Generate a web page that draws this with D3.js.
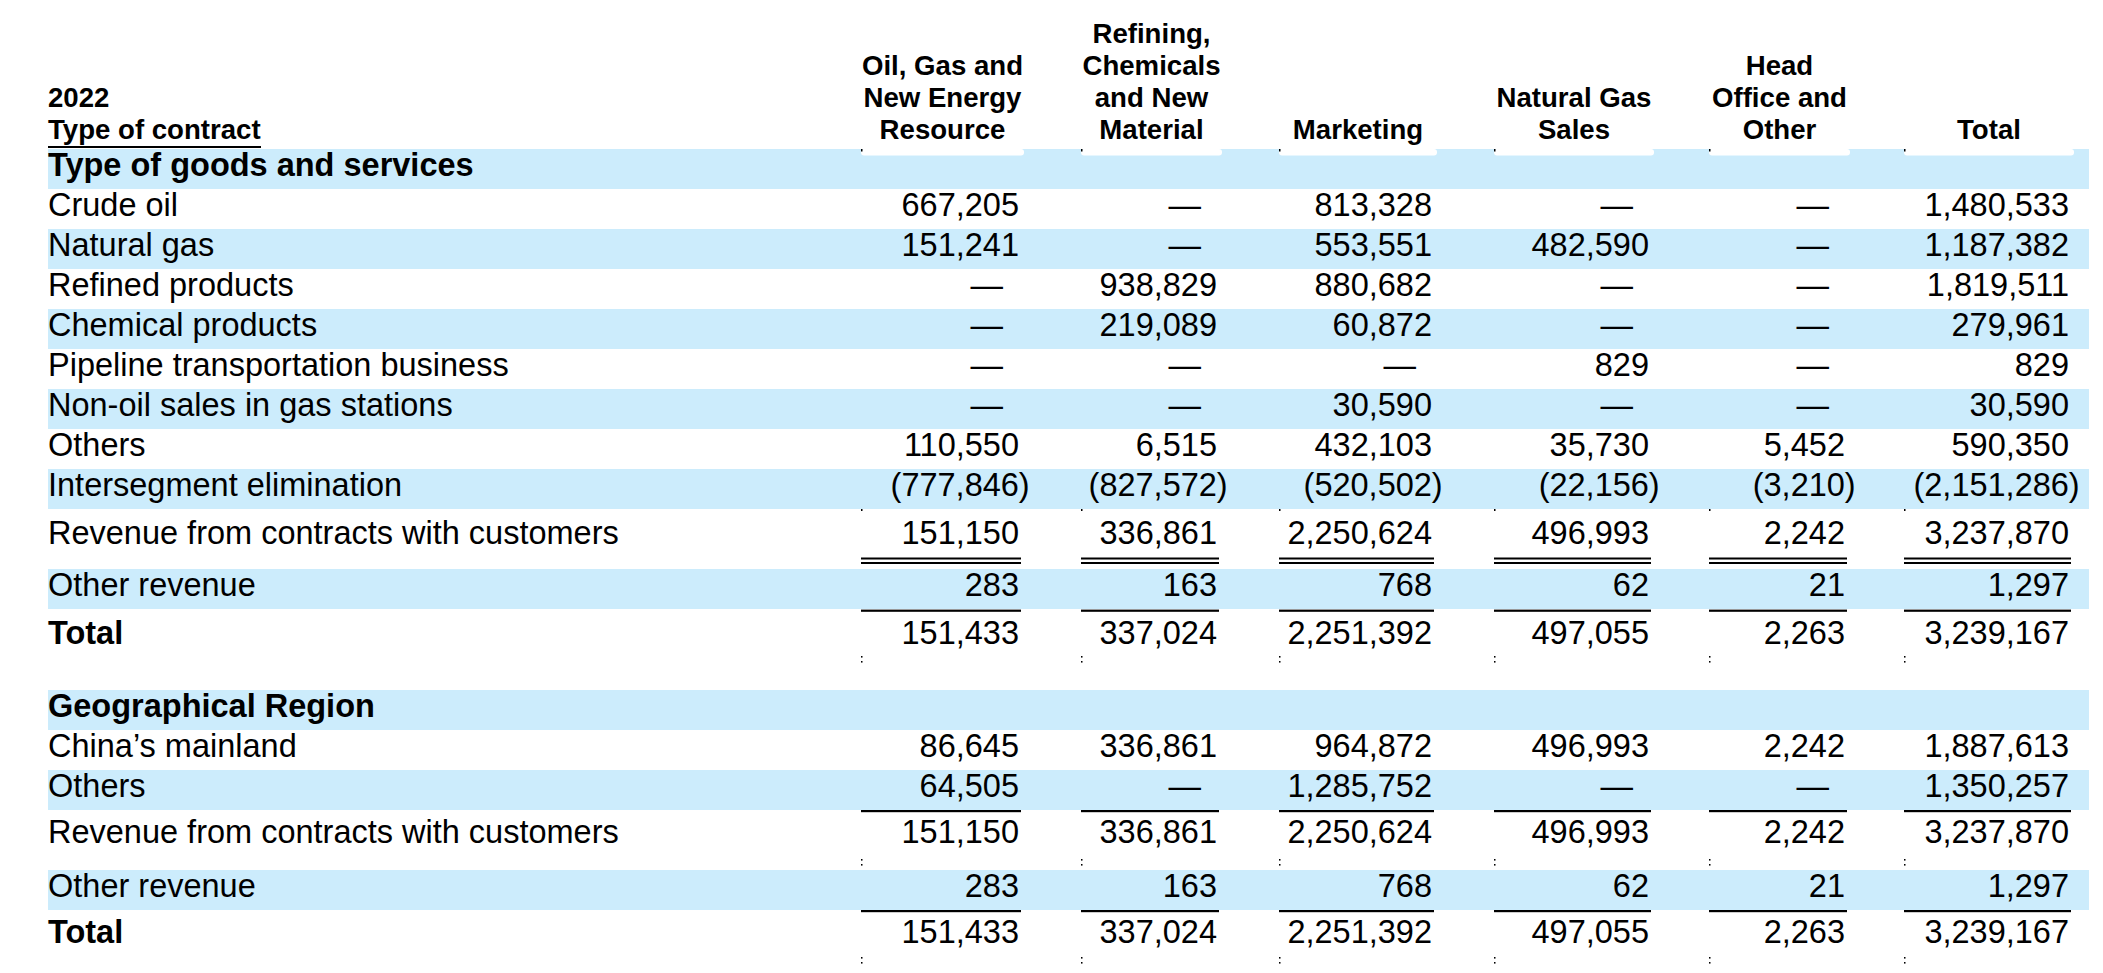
<!DOCTYPE html>
<html>
<head>
<meta charset="utf-8">
<script src="https://cdn.jsdelivr.net/npm/d3@7"></script>
<style>
  html, body { margin: 0; padding: 0; background: #ffffff; }
  svg { display: block; }
  text { font-family: "Liberation Sans", Arial, Helvetica, sans-serif; fill: #000; }
</style>
</head>
<body>
<svg id="chart"></svg>
<script>
// ---------------- DATA ----------------
const yearLabel = "2022";
const stubTitle = "Type of contract";
const segments = [
  "Oil, Gas and\nNew Energy\nResource",
  "Refining,\nChemicals\nand New\nMaterial",
  "Marketing",
  "Natural Gas\nSales",
  "Head\nOffice and\nOther",
  "Total"
];
const section1Title = "Type of goods and services";
const section2Title = "Geographical Region";

const goodsCategories = [
  "Crude oil", "Natural gas", "Refined products", "Chemical products",
  "Pipeline transportation business", "Non-oil sales in gas stations",
  "Others", "Intersegment elimination"
];
const crudeOil        = [667205, null, 813328, null, null, 1480533];
const naturalGas      = [151241, null, 553551, 482590, null, 1187382];
const refinedProducts = [null, 938829, 880682, null, null, 1819511];
const chemicalProducts= [null, 219089, 60872, null, null, 279961];
const pipelineBiz     = [null, null, null, 829, null, 829];
const nonOilSales     = [null, null, 30590, null, null, 30590];
const othersGoods     = [110550, 6515, 432103, 35730, 5452, 590350];
const intersegment    = [-777846, -827572, -520502, -22156, -3210, -2151286];

const regionCategories = ["China\u2019s mainland", "Others"];
const chinaMainland   = [86645, 336861, 964872, 496993, 2242, 1887613];
const othersRegion    = [64505, null, 1285752, null, null, 1350257];

const revenueLabel = "Revenue from contracts with customers";
const otherRevLabel = "Other revenue";
const totalLabel = "Total";
const revenueContracts = [151150, 336861, 2250624, 496993, 2242, 3237870];
const otherRevenue     = [283, 163, 768, 62, 21, 1297];
const totalRevenue     = [151433, 337024, 2251392, 497055, 2263, 3239167];

// ---------------- LAYOUT ----------------
const W = 2103, H = 973;
const BLUE = "#ccecfc";
const bodySize = 32.5, headSize = 27.6;
const labelX = 48, bandRight = 2089;

const svg = d3.select("#chart").attr("width", W).attr("height", H);

const colRight = d3.scaleOrdinal().domain(segments).range([1019, 1217, 1432, 1649, 1845, 2069]);
const colLeft  = d3.scaleOrdinal().domain(segments).range([861, 1081, 1279, 1494, 1709, 1904]);

const fmtNum = d3.format(",");
function fmt(v) {
  if (v === null || v === undefined) return "\u2014";
  return v < 0 ? "(" + fmtNum(-v) + ")" : fmtNum(v);
}

const goodsValues = [crudeOil, naturalGas, refinedProducts, chemicalProducts, pipelineBiz, nonOilSales, othersGoods, intersegment];
const regionValues = [chinaMainland, othersRegion];

const rows = [];
rows.push({label: section1Title, type: "section", h: 40, fill: true, base: 27});
goodsCategories.forEach((c, i) => rows.push({label: c, values: goodsValues[i], h: 40, fill: i % 2 === 1, base: 27}));
rows.push({label: revenueLabel, values: revenueContracts, h: 60, fill: false, base: 35, topTick: true, doubleLine: [49.5, 54]});
rows.push({label: otherRevLabel, values: otherRevenue, h: 40, fill: true, base: 27, bottomLine: 1.6});
rows.push({label: totalLabel, values: totalRevenue, h: 81, fill: false, base: 35, bold: true, dots: 50});
rows.push({label: section2Title, type: "section", h: 40, fill: true, base: 27});
regionCategories.forEach((c, i) => rows.push({label: c, values: regionValues[i], h: 40, fill: i % 2 === 1, base: 27, bottomLine: i === regionCategories.length - 1 ? 1 : null}));
rows.push({label: revenueLabel, values: revenueContracts, h: 60, fill: false, base: 33, dots: 52});
rows.push({label: otherRevLabel, values: otherRevenue, h: 40, fill: true, base: 27, bottomLine: 1});
rows.push({label: totalLabel, values: totalRevenue, h: 50, fill: false, base: 33, bold: true, dots: 50});

let yCursor = 149;
rows.forEach(r => { r.top = yCursor; yCursor += r.h; });
const rowTop = d3.scaleOrdinal().domain(d3.range(rows.length)).range(rows.map(r => r.top));

// ---------------- BANDS ----------------
svg.append("g").selectAll("rect")
  .data(rows.map((r, i) => ({r, i})).filter(d => d.r.fill))
  .join("rect")
  .attr("x", labelX).attr("width", bandRight - labelX)
  .attr("y", d => rowTop(d.i)).attr("height", d => d.r.h)
  .attr("fill", BLUE);

// ---------------- HEADER ----------------
const head = svg.append("g");
head.append("text").attr("x", labelX).attr("y", 106.5)
  .attr("font-size", headSize).attr("font-weight", "bold").text(yearLabel);
head.append("text").attr("x", labelX).attr("y", 138.5)
  .attr("font-size", headSize).attr("font-weight", "bold").text(stubTitle);
head.append("rect").attr("x", labelX).attr("y", 146).attr("width", 213).attr("height", 2).attr("fill", "#000");

segments.forEach(seg => {
  const lines = seg.split("\n");
  const cx = (colLeft(seg) + colRight(seg) + 5) / 2;
  lines.forEach((ln, k) => {
    head.append("text")
      .attr("x", cx)
      .attr("y", 138.5 - (lines.length - 1 - k) * 32)
      .attr("text-anchor", "middle")
      .attr("font-size", headSize).attr("font-weight", "bold")
      .text(ln);
  });
  head.append("rect")
    .attr("x", colLeft(seg)).attr("y", 149)
    .attr("width", colRight(seg) + 5 - colLeft(seg)).attr("height", 6.5)
    .attr("rx", 3).attr("fill", "#fff");
  head.append("rect")
    .attr("x", colLeft(seg)).attr("y", 149).attr("width", 1.5).attr("height", 2.5).attr("fill", "#000");
});

// ---------------- BODY ----------------
const body = svg.append("g");
rows.forEach((r, i) => {
  const top = rowTop(i);
  const base = top + r.base;
  body.append("text")
    .attr("x", labelX).attr("y", base)
    .attr("font-size", bodySize)
    .attr("font-weight", (r.type === "section" || r.bold) ? "bold" : "normal")
    .text(r.label);
  if (!r.values) return;
  segments.forEach((seg, j) => {
    const v = r.values[j];
    let x = colRight(seg);
    if (v === null) x -= 16;
    else if (v < 0) x += 10.7;
    body.append("text")
      .attr("x", x).attr("y", base)
      .attr("text-anchor", "end")
      .attr("font-size", bodySize)
      .text(fmt(v));

    const l = colLeft(seg), w = colRight(seg) + 2 - colLeft(seg);
    if (r.doubleLine) {
      r.doubleLine.forEach(off => body.append("rect").attr("x", l).attr("y", top + off - 1).attr("width", w).attr("height", 2).attr("fill", "#000"));
    }
    if (r.bottomLine != null) {
      body.append("rect").attr("x", l).attr("y", top + r.h + r.bottomLine - 1).attr("width", w).attr("height", 2.2).attr("fill", "#000");
    }
    if (r.topTick) {
      body.append("rect").attr("x", l).attr("y", top).attr("width", 1.5).attr("height", 2).attr("fill", "#000");
    }
    if (r.dots) {
      [-3, 2].forEach(dy => body.append("rect").attr("x", l).attr("y", top + r.dots + dy).attr("width", 1.5).attr("height", 1.6).attr("fill", "#000"));
    }
  });
});
</script>
</body>
</html>
